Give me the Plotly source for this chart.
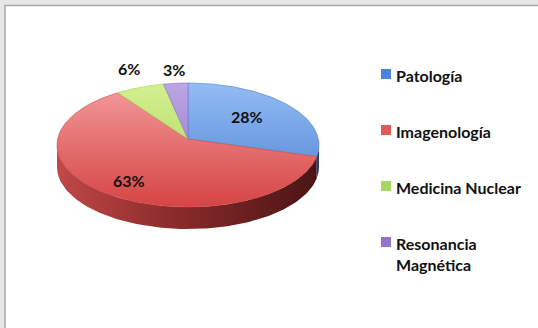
import numpy as np
import plotly.graph_objects as go

# Data
categories = ["Patología", "Imagenología", "Medicina Nuclear", "Resonancia<br>Magnética"]
shares = [28, 63, 6, 3]

# Styling
top_colors = [("#93bcf4", "#4a7fd0"), ("#f39c9c", "#d64444"),
              ("#d4f090", "#a6d256"), ("#bca6e4", "#8d6cc6")]
side_colors = [("#3a66b0", "#1f3f78"), ("#c04848", "#4a1414"),
               ("#98c048", "#6a8a2a"), ("#7a58b0", "#4a3478")]
legend_colors = ["#4a84d8", "#e05a5a", "#a8d864", "#9474cc"]
FONT = "Lato"

W, H = 538, 328
CX, CY = 188, 145          # centre of the top ellipse
AX, AY = 188, 139          # apex of the slices (perspective)
RX, RY = 131, 62
DEPTH = 22

fig = go.Figure()

total = sum(shares)
angles = [90.0]
for s in shares:
    angles.append(angles[-1] - 360.0 * s / total)


def arc(a0, a1, n=120):
    t = np.radians(np.linspace(a0, a1, n))
    return CX + RX * np.cos(t), CY - RY * np.sin(t)


# Side walls (only the front half of the rim is visible)
for i in range(len(shares)):
    a0, a1 = angles[i], angles[i + 1]
    lo, hi = max(a1, -180.0), min(a0, 0.0)
    if lo >= hi:
        continue
    xs, ys = arc(hi, lo)
    px = np.concatenate([xs, xs[::-1]])
    py = np.concatenate([ys, ys[::-1] + DEPTH])
    c0, c1 = side_colors[i]
    fig.add_trace(go.Scatter(
        x=px, y=py, mode="lines", fill="toself", line=dict(width=0),
        fillgradient=dict(type="horizontal", start=CX - RX, stop=CX + RX,
                          colorscale=[[0, c0], [0.45, "#8a2a2a" if i == 1 else c0], [1, c1]]),
        hoverinfo="skip", showlegend=False))

# Top faces
for i in range(len(shares)):
    xs, ys = arc(angles[i], angles[i + 1])
    px = np.concatenate([[AX], xs, [AX]])
    py = np.concatenate([[AY], ys, [AY]])
    c0, c1 = top_colors[i]
    fig.add_trace(go.Scatter(
        x=px, y=py, mode="lines", fill="toself",
        line=dict(width=0.6, color=c1),
        fillgradient=dict(type="vertical", start=CY - RY, stop=CY + RY,
                          colorscale=[[0, c0], [1, c1]]),
        hoverinfo="skip", showlegend=False))

# Percentage labels, placed along each slice's middle direction from the apex
label_r = [0.58, 0.8, 1.22, 1.12]
annotations = []
for i, s in enumerate(shares):
    mid = np.radians((angles[i] + angles[i + 1]) / 2)
    annotations.append(dict(
        x=AX + label_r[i] * RX * np.cos(mid), y=AY - label_r[i] * RY * np.sin(mid),
        xref="x", yref="y", text=f"<b>{s}%</b>", showarrow=False,
        font=dict(family=FONT, size=16, color="#111111")))

# Legend
LEG_X, LEG_Y, LEG_STEP = 381, 74, 56
shapes = [
    dict(type="rect", xref="x", yref="y", x0=5, y0=5.5, x1=W + 5, y1=H + 5,
         fillcolor="white", line=dict(color="#a8a8a8", width=1.5), layer="below"),
]
for i, name in enumerate(categories):
    y = LEG_Y + i * LEG_STEP
    shapes.append(dict(type="rect", xref="x", yref="y", x0=LEG_X, x1=LEG_X + 10,
                       y0=y - 5, y1=y + 5, fillcolor=legend_colors[i],
                       line=dict(width=0)))
    annotations.append(dict(
        x=LEG_X + 13, y=y - 10, xref="x", yref="y", xanchor="left", yanchor="top",
        align="left", text="<b>" + name.replace("<br>", "</b><br><b>") + "</b>",
        showarrow=False, font=dict(family=FONT, size=16, color="#111111")))

fig.update_layout(
    width=W, height=H, margin=dict(l=0, r=0, t=0, b=0),
    paper_bgcolor="#e6e6e6", plot_bgcolor="rgba(0,0,0,0)",
    xaxis=dict(range=[0, W], visible=False, fixedrange=True),
    yaxis=dict(range=[H, 0], visible=False, fixedrange=True),
    shapes=shapes, annotations=annotations, showlegend=False,
)

fig.write_html("out.html")
